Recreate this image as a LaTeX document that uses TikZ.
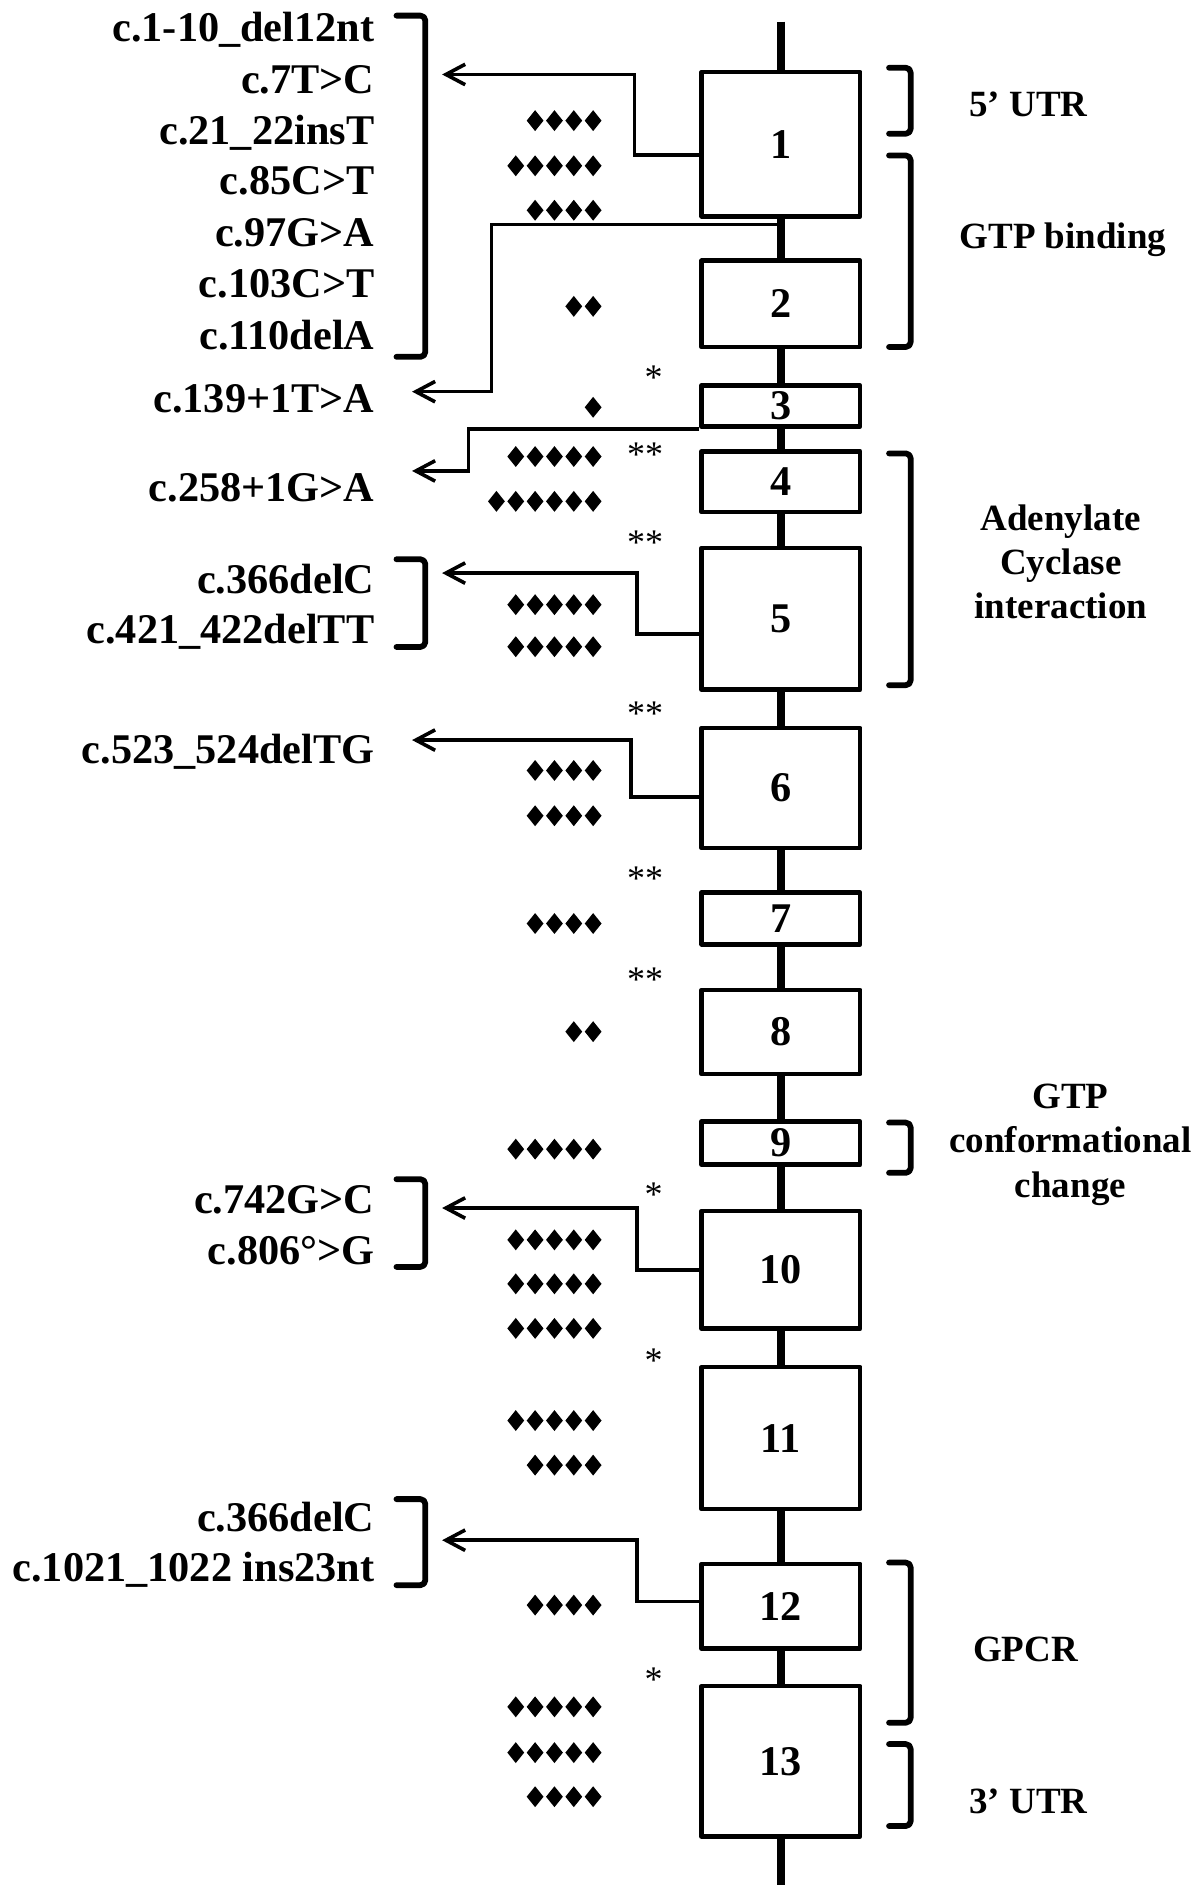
\documentclass[tikz,border=0pt]{standalone}
\usepackage{fontspec}
\setmainfont{Liberation Serif}
\usetikzlibrary{arrows.meta}

\begin{document}
\begin{tikzpicture}[line cap=round,line join=round,x=0.5pt,y=-0.5pt,
		>={Straight Barb[length=8pt,width=8.5pt]},
		exon/.style={draw,fill=white,line width=1.9pt,minimum width=66pt,inner sep=0pt,font=\fontsize{17.6}{21}\selectfont\bfseries},
		spine/.style={line width=3.5pt,line cap=butt},
		brkt/.style={line width=2.4pt,rounded corners=2pt},
		conn/.style={line width=1.5pt,line cap=butt,line join=miter},
		mut/.style={anchor=base east,inner sep=0pt,font=\fontsize{17.6}{21}\selectfont\bfseries},
		dom/.style={anchor=north,inner sep=0pt,align=center,font=\fontsize{15.4}{18.5}\selectfont\bfseries},
		star/.style={anchor=base,inner sep=0pt,font=\fontsize{15}{18}\selectfont}]
		\useasboundingbox (0,0) rectangle (992,1569);
		% exons
		\foreach \i/\y/\h in {1/120/60,2/253/36,3/338/17,4/401/25.25,5/515/59,6/656/50,7/764.5/21.5,
			8/859/35,9/951.5/18,10/1057/49,11/1197/59,12/1337/35.25,13/1466/62.5}
			\node[exon,minimum height=\h pt] (e\i) at (650,\y) {\i};
		\coordinate (top) at (650,18);
		\coordinate (bot) at (650,1569);
		\draw[spine] (top) -- (e1) -- (e2) -- (e3) -- (e4) -- (e5) -- (e6) -- (e7) -- (e8) -- (e9)
			-- (e10) -- (e11) -- (e12) -- (e13) -- (bot);
		% mutations
		\foreach \y/\t [count=\i] in {34.7/c.1-10\_del12nt,77.6/c.7T>C,120.6/c.21\_22insT,162.2/c.85C>T,
			205.2/c.97G>A,247.4/c.103C>T,290.6/c.110delA,343/c.139+1T>A,417.4/c.258+1G>A,
			493.7/c.366delC,536/c.421\_422delTT,635.7/c.523\_524delTG,1010.2/c.742G>C,
			1052.7/c.806°>G,1274.5/c.366delC,1316.2/c.1021\_1022 ins23nt}
			\node[mut] (m\i) at (312,\y) {\t};
		\foreach \a/\b in {13/297,465.5/538.5,981.5/1054.5,1247.8/1319.4}
			\draw[brkt] (330,\a) -| (354,\b) -- (330,\b);
		\coordinate (g1) at (368,62);
		\coordinate (g139) at (343,326);
		\coordinate (g258) at (343,392);
		\coordinate (g2) at (368,477);
		\coordinate (g523) at (343,616);
		\coordinate (g3) at (368,1005.5);
		\coordinate (g4) at (368,1282);
		\draw[conn,->] ([yshift=-4.5pt]e1.west) -- ++(-54,0) |- (g1);
		\draw[conn,->] ([yshift=-2.5pt]e1.south) -- ++(-241,0) |- (g139);
		\draw[conn,->] (e3.south west) -- ++(-192,0) |- (g258);
		\draw[conn,->] ([yshift=-6.25pt]e5.west) -- ++(-52,0) |- (g2);
		\draw[conn,->] ([yshift=-3.7pt]e6.west) -- ++(-57,0) |- (g523);
		\draw[conn,->] (e10.west) -- ++(-52,0) |- (g3);
		\draw[conn,->] ([yshift=2pt]e12.west) -- ++(-52,0) |- (g4);
		% domains
		\foreach \a/\b in {56.4/111.3,129.4/288.8,377.4/570.3,934.4/976.2,1300.6/1433.9,1451.7/1519.9}
			\draw[brkt] (740,\a) -| (758,\b) -- (740,\b);
		\node[dom,anchor=base] (utr5) at (856,97) {5’ UTR};
		\node[dom,anchor=base] (gtpb) at (884.7,206.6) {GTP binding};
		\node[dom] (adcy) at (883,419.4) {Adenylate\\Cyclase\\interaction};
		\node[dom] (gtpc) at (891,901.9) {GTP\\conformational\\change};
		\node[dom,anchor=base] (gpcr) at (853.6,1382.8) {GPCR};
		\node[dom,anchor=base] (utr3) at (856,1509.8) {3’ UTR};
		% diamonds
		\foreach \n/\y in {4/100.4,5/138,4/175,2/255,1/339,5/380,6/417.3,5/503.3,5/538.3,4/641.3,4/679,
			4/768.7,2/858.7,5/956.5,5/1032,5/1068.6,5/1105.7,5/1182.4,4/1219.5,4/1336,5/1420.7,5/1458.8,4/1495.5}
			\foreach \k in {1,...,\n}
				\fill ({493.7-16.1*(\k-1)},\y) ++(0,-8.7) -- ++(7,8.7) -- ++(-7,8.7) -- ++(-7,-8.7) -- cycle;
		% stars
		\foreach \x/\y/\s [count=\i] in {544/310.6/*,537/374.2/**,537/447.6/**,537/589.7/**,537/727.3/**,
			537/811.2/**,544/990.5/*,544/1128/*,544/1394/*}
			\node[star] (s\i) at (\x,\y+14) {\s};
	\end{tikzpicture}
\end{document}
